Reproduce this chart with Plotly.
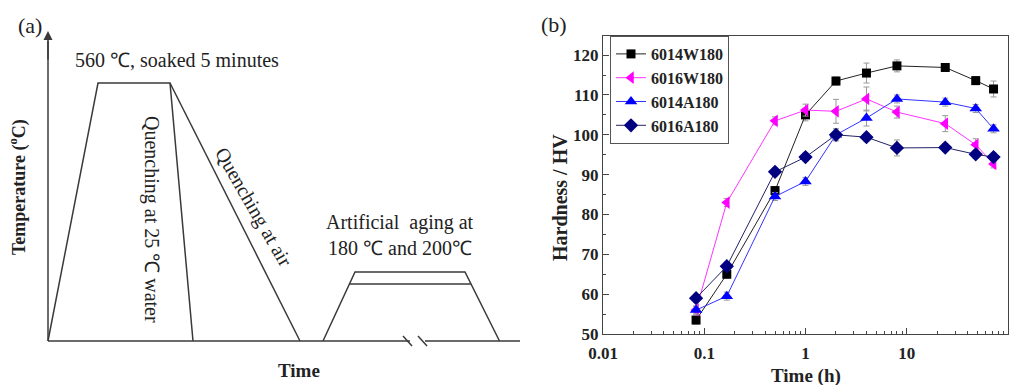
import plotly.graph_objects as go

# ---------------- data (panel b) ----------------
time_h = [0.083, 0.167, 0.5, 1, 2, 4, 8, 24, 48, 72]
series_names = ["6014W180", "6016W180", "6014A180", "6016A180"]
hv_6014W180 = [53.5, 65.0, 86.0, 105.0, 113.5, 115.5, 117.3, 116.9, 113.6, 111.5]
hv_6016W180 = [56.0, 83.0, 103.5, 106.2, 105.9, 109.0, 105.7, 102.8, 97.5, 92.7]
hv_6014A180 = [56.0, 59.5, 84.5, 88.3, 100.0, 104.2, 109.0, 108.2, 106.6, 101.5]
hv_6016A180 = [59.0, 67.0, 90.7, 94.4, 100.0, 99.4, 96.7, 96.8, 95.1, 94.4]
err_6014W180 = [1.0, 1.0, 1.0, 1.5, 1.0, 2.5, 1.5, 1.0, 1.0, 2.0]
err_6016W180 = [1.0, 1.0, 1.0, 1.5, 3.0, 3.0, 1.5, 2.0, 1.5, 1.0]
err_6014A180 = [1.0, 1.0, 1.0, 1.0, 1.5, 2.0, 1.0, 1.0, 1.0, 1.0]
err_6016A180 = [1.0, 1.0, 1.0, 1.0, 1.5, 1.0, 2.0, 1.0, 1.0, 1.0]
x_tick_vals = [0.01, 0.1, 1, 10, 100]
x_tick_text = ["0.01", "0.1", "1", "10", "100"]
x_minor_vals = [m * d for d in (0.01, 0.1, 1, 10) for m in range(2, 10)]
y_tick_vals = [50, 60, 70, 80, 90, 100, 110, 120]

# ---------------- schematic profile (panel a), arbitrary units ----------------
solution_t = [0, 50, 122, 145]
solution_T = [0, 258, 258, 0]
air_t = [122, 252]
air_T = [258, 0]
aging_t = [275, 307, 417, 451.5]
aging_T = [0, 69, 69, 0]
aging2_t = [301.5, 423]
aging2_T = [57, 57]
axis_left_t = [0, 362]
axis_right_t = [377, 472]

FONT = "Liberation Serif"
LINE = "#3a3a3a"
TXT = "#222222"

fig = go.Figure()

styles = [
    (hv_6014W180, err_6014W180, "#000000", "#222222", "square", 9),
    (hv_6016W180, err_6016W180, "#ff00ff", "#ff33ff", "triangle-left", 11),
    (hv_6014A180, err_6014A180, "#0000ff", "#3333ff", "triangle-up", 11),
    (hv_6016A180, err_6016A180, "#000080", "#222266", "diamond", 11),
]
for name, (vals, errs, mcol, lcol, sym, sz) in zip(series_names, styles):
    fig.add_trace(go.Scatter(
        x=time_h, y=vals, name=name, mode="lines+markers",
        line=dict(color=lcol, width=1),
        marker=dict(color=mcol, symbol=sym, size=sz, line=dict(width=0)),
        error_y=dict(type="data", array=errs, visible=True, color="#999999",
                     thickness=1, width=3),
        xaxis="x", yaxis="y",
    ))

def sline(t, T):
    fig.add_trace(go.Scatter(x=t, y=T, mode="lines", line=dict(color=LINE, width=1.5),
                             showlegend=False, hoverinfo="skip", xaxis="x2", yaxis="y2"))

sline(solution_t, solution_T)
sline(air_t, air_T)
sline(aging_t, aging_T)
sline(aging2_t, aging2_T)
sline(axis_left_t, [0, 0])
sline(axis_right_t, [0, 0])
sline([0, 0], [0, 300])
sline([355, 364], [5, -5])
sline([370, 379], [5, -5])

ann = []
def txt(x, y, s, size=17, angle=0, bold=False, ref=("x2", "y2")):
    ann.append(dict(x=x, y=y, xref=ref[0], yref=ref[1], text=s, showarrow=False,
                    textangle=angle, xanchor="center", yanchor="middle",
                    font=dict(family=FONT, size=size, color=TXT,
                              weight="bold" if bold else "normal")))

ann.append(dict(x=0, y=310, ax=0, ay=280, xref="x2", yref="y2", axref="x2", ayref="y2",
                showarrow=True, arrowhead=2, arrowsize=1.2, arrowwidth=1.5,
                arrowcolor=LINE, text=""))
txt(-18, 316, "(a)", size=22)
txt(129, 281, "560 ℃, soaked 5 minutes", size=20)
txt(104, 122, "Quenching at 25 ℃ water", size=20, angle=90)
txt(206, 134, "Quenching at air", size=20, angle=60)
txt(352, 119, "Artificial  aging at", size=20)
txt(352, 93, "180 ℃ and 200℃", size=20)
txt(-30, 154, "Temperature (<sup>o</sup>C)", size=18, angle=-90, bold=True)
txt(251, -29, "Time", size=19, bold=True)

txt(554 / 1019, 1 - 24 / 385, "(b)", size=22, ref=("paper", "paper"))
txt(560 / 1019, 1 - 198 / 385, "Hardness / HV", size=20, angle=-90, bold=True, ref=("paper", "paper"))
txt(806 / 1019, 1 - 376 / 385, "Time (h)", size=19, bold=True, ref=("paper", "paper"))

fig.update_layout(
    width=1019, height=385,
    margin=dict(l=0, r=0, t=0, b=0, pad=0, autoexpand=False),
    paper_bgcolor="white", plot_bgcolor="white",
    showlegend=True,
    legend=dict(x=610 / 1019, y=1 - 36 / 385, xanchor="left", yanchor="top",
                bgcolor="white", bordercolor="#555555", borderwidth=1,
                font=dict(family=FONT, size=16, color=TXT, weight="bold"),
                tracegroupgap=0, itemwidth=30),
    annotations=ann,
    xaxis=dict(domain=[603 / 1019, 1008 / 1019], type="log",
               range=[-2, 2], tickvals=x_tick_vals, ticktext=x_tick_text,
               ticks="inside", ticklen=6, tickcolor="#444444", ticklabelstandoff=3,
               minor=dict(tickvals=x_minor_vals, ticks="inside", ticklen=3,
                          tickcolor="#444444", showgrid=False),
               showline=True, linecolor="#444444", linewidth=1.2, mirror=True,
               showgrid=False, zeroline=False, automargin=False,
               tickfont=dict(family=FONT, size=17, color=TXT, weight="bold"),
               anchor="y"),
    yaxis=dict(domain=[1 - 334 / 385, 1 - 36 / 385], range=[50, 124.8],
               tickvals=y_tick_vals, ticks="inside", ticklen=6, tickcolor="#444444",
               minor=dict(dtick=5, ticks="inside", ticklen=3, tickcolor="#444444", showgrid=False),
               showline=True, linecolor="#444444", linewidth=1.2, mirror=True,
               showgrid=False, zeroline=False, automargin=False,
               tickfont=dict(family=FONT, size=17, color=TXT, weight="bold"),
               anchor="x"),
    xaxis2=dict(domain=[0, 0.52], range=[-48, 0.52 * 1019 - 48], visible=False,
                anchor="y2", fixedrange=True, automargin=False),
    yaxis2=dict(domain=[0, 1], range=[-44, 341], visible=False, anchor="x2",
                fixedrange=True, automargin=False),
)

fig.write_html("out.html", config={"displayModeBar": False},
               post_script="document.body.style.margin='0';document.body.style.overflow='hidden';")
